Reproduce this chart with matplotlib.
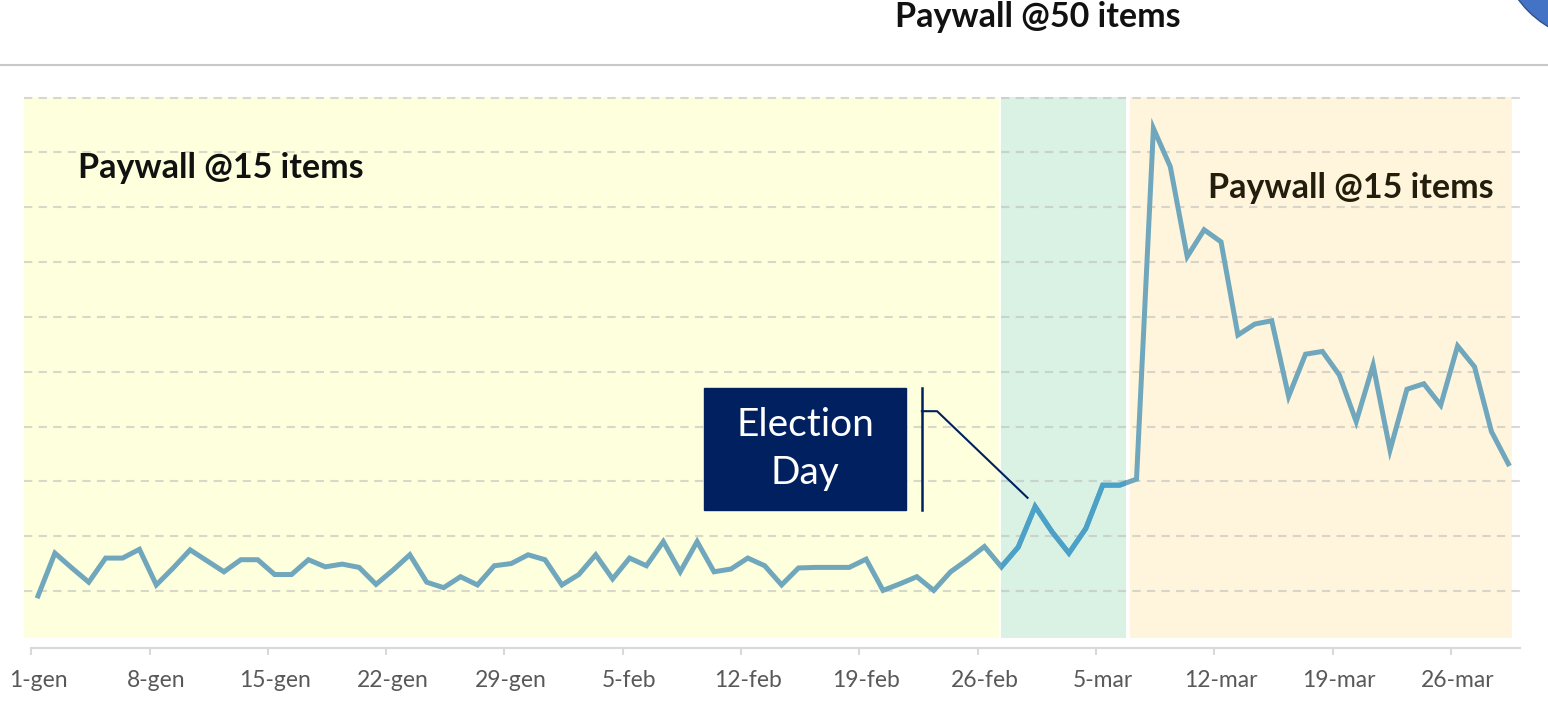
import matplotlib.pyplot as plt
from matplotlib.patches import Rectangle, Circle

# ---------- Données (indice de jour depuis le 1er janvier) ----------
valeurs = [
    0.91, 1.69, 1.42, 1.16, 1.60, 1.60, 1.76, 1.11, 1.42, 1.75,
    1.55, 1.35, 1.57, 1.57, 1.30, 1.30, 1.57, 1.44, 1.49, 1.43,
    1.12, 1.38, 1.66, 1.16, 1.06, 1.26, 1.11, 1.46, 1.50, 1.66,
    1.57, 1.11, 1.30, 1.66, 1.22, 1.60, 1.46, 1.90, 1.35, 1.90,
    1.35, 1.40, 1.60, 1.46, 1.11, 1.42, 1.43, 1.43, 1.43, 1.58,
    1.01, 1.13, 1.26, 1.01, 1.35, 1.57, 1.81, 1.44, 1.80, 2.54,
    2.08, 1.69, 2.14, 2.93, 2.93, 3.04, 9.44, 8.74, 7.10, 7.59,
    7.37, 5.67, 5.87, 5.93, 4.55, 5.32, 5.37, 4.94, 4.09, 5.12,
    3.57, 4.68, 4.78, 4.39, 5.47, 5.09, 3.91, 3.32,
]
jours = list(range(len(valeurs)))

tick_jours = [0, 7, 14, 21, 28, 35, 42, 49, 56, 63, 70, 77, 84]
tick_labels = ["1-gen", "8-gen", "15-gen", "22-gen", "29-gen", "5-feb", "12-feb",
               "19-feb", "26-feb", "5-mar", "12-mar", "19-mar", "26-mar"]

# périodes du paywall : (début, fin, couleur)
periodes = [
    (-0.83, 56.85, "#feffdc"),
    (56.97, 64.38, "#d9f2e4"),
    (64.62, 87.22, "#fff5dc"),
]
jour_election = 59

# ---------- Figure ----------
fig = plt.figure(figsize=(15.48, 7.07), dpi=100)
ax = fig.add_axes([0.0155, 0.0835, 0.9664, 0.7822])
ax.set_xlim(-0.83, 87.69)
ax.set_ylim(-0.04, 10.05)

# Fonds colorés
bas, haut = 0.142, 10.01
for x0, x1, col in periodes:
    ax.fill_between([x0, x1], bas, haut, color=col, lw=0, zorder=0.5)

# Grille horizontale pointillée
ax.set_yticks(range(1, 11))
ax.yaxis.grid(True, color="#bfbfbf", alpha=0.6, lw=1.5, ls=(0, (4, 3)), zorder=1)
ax.tick_params(axis="y", length=0, labelleft=False)

# Courbe
ligne, = ax.plot(jours, valeurs, color="#70a7bc", lw=3.6, zorder=3,
                 solid_joinstyle="miter")
x0, x1, _ = periodes[1]
zone = Rectangle((x0, bas), x1 - x0, haut - bas, transform=ax.transData)
bleu, = ax.plot(jours, valeurs, color="#4ca1c9", lw=3.6, zorder=3.1,
                solid_joinstyle="miter")
bleu.set_clip_path(zone)

# Axes : étiquettes centrées sur les jours, graduations légèrement avant
for s in ["left", "right", "top"]:
    ax.spines[s].set_visible(False)
ax.spines["bottom"].set_color("#d9d9d9")
ax.spines["bottom"].set_linewidth(1.5)
ax.spines["bottom"].set_bounds(-0.4, 87.69)
ax.set_xticks(tick_jours)
ax.set_xticklabels(tick_labels, fontfamily="Lato", fontsize=16.5, color="#595959")
ax.tick_params(axis="x", which="major", length=0, pad=16)
ax.set_xticks([t - 0.4 for t in tick_jours], minor=True)
ax.tick_params(axis="x", which="minor", length=5, width=1.5, color="#d9d9d9")

# Étiquettes des périodes
titre = dict(fontfamily="Lato", fontweight="bold", fontsize=24.5)
ax.text(2.37, 8.71, "Paywall @15 items", color="#111111", va="center", ha="left", **titre)
ax.text(69.2, 8.36, "Paywall @15 items", color="#221d0c", va="center", ha="left", **titre)
fig.text(1037.5 / 1548, 1 - 17 / 707, "Paywall @50 items", color="#111111",
         ha="center", va="center", **titre)

# Encadré Election Day
ax.add_patch(Rectangle((39.4, 2.48), 11.96, 2.22, color="#002060", zorder=4))
ax.text(45.38, 3.59, "Election\nDay", color="white", fontfamily="Lato",
        fontsize=28, ha="center", va="center", linespacing=1.42, zorder=5)
ax.plot([52.3, 52.3], [2.48, 4.70], color="#002060", lw=1.8, zorder=4)
ax.plot([52.3, 53.2, jour_election - 0.45, ], [4.28, 4.28, valeurs[jour_election] + 0.16],
        color="#002060", lw=1.5, zorder=4)

# Ligne de séparation et cercle en haut
fig.add_artist(plt.Line2D([0, 1], [1 - 65 / 707, 1 - 65 / 707], color="#c8c8c8", lw=1.5))
fig.add_artist(Circle((16.0, 7.67), 1.01, transform=fig.dpi_scale_trans,
                      facecolor="#4472c4", edgecolor="#2f528f", lw=1))

fig.savefig("out.png", dpi=100)
